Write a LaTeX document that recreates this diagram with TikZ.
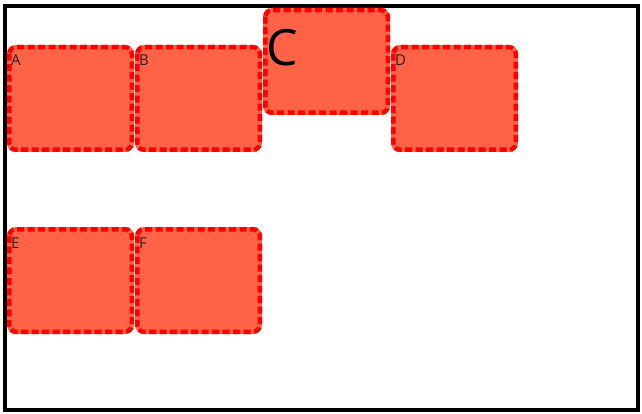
\documentclass[tikz,border=0pt]{standalone}
\usepackage{fontspec}
\setmainfont{Open Sans}
\definecolor{tomatofill}{HTML}{FF6347}
\definecolor{labelgray}{HTML}{222222}
\begin{document}
\begin{tikzpicture}[x=1pt,y=-1pt,
  cell/.style={fill=tomatofill, minimum width=127pt, minimum height=107pt, inner sep=0pt,
    outer sep=0pt, anchor=north west, rounded corners=9pt},
  cellborder/.style={draw=red, line width=4.5pt, dash pattern=on 7pt off 3.5pt, rounded corners=6.5pt},
  lbl/.style={inner sep=0pt, anchor=base west, text=labelgray, font=\fontsize{15}{18}\selectfont}]
\useasboundingbox (0,0) rectangle (642,414);
\draw[line width=4pt] (5,6) rectangle (638,410);
\node[cell] (A) at (7,45) {};
\node[cell] (B) at (135,45) {};
\node[cell] (C) at (263,8) {};
\node[cell] (D) at (391,45) {};
\node[cell] (E) at (7,227) {};
\node[cell] (F) at (135,227) {};
\foreach \n in {A,B,C,D,E,F}
  \draw[cellborder] ([shift={(2.25,2.25)}]\n.north west) rectangle ([shift={(-2.25,-2.25)}]\n.south east);
\node[lbl] (la) at (11,66) {A};
\node[lbl] (lb) at (139,66) {B};
\node[lbl, text=black, font=\fontsize{50}{60}\selectfont] (lc) at (266,66) {C};
\node[lbl] (ld) at (395,66) {D};
\node[lbl] (le) at (11,248) {E};
\node[lbl] (lf) at (139,248) {F};
\end{tikzpicture}
\end{document}
